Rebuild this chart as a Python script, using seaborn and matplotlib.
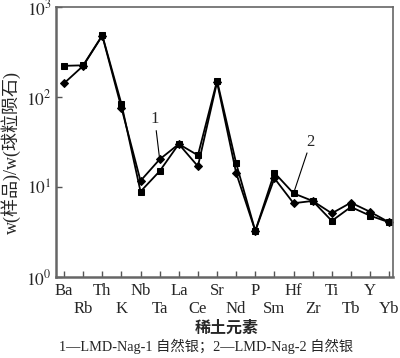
import numpy as np
import pandas as pd
import seaborn as sns
import matplotlib.pyplot as plt

# elements along the x axis
elements = ["Ba", "Rb", "Th", "K", "Nb", "Ta", "La", "Ce", "Sr", "Nd",
            "P", "Sm", "Hf", "Zr", "Ti", "Tb", "Y", "Yb"]

# chondrite-normalised values
nag1 = [142, 222, 480, 76, 11.7, 20.3, 30, 17, 146, 14.3,
        3.25, 12.5, 6.6, 7.0, 5.1, 6.7, 5.3, 4.05]
nag2 = [222, 225, 485, 84, 8.9, 15, 30, 22.5, 152, 18.3,
        3.25, 14.4, 8.5, 7.0, 4.2, 6.0, 4.8, 4.05]
series_names = ["1", "2"]

yticks = [1, 10, 100, 1000]
ytick_labels = ["$10^{0}$", "$10^{1}$", "$10^{2}$", "$10^{3}$"]

df = pd.DataFrame({
    "idx": list(range(len(elements))) * 2,
    "value": nag1 + nag2,
    "series": [series_names[0]] * len(elements) + [series_names[1]] * len(elements),
})

sns.set_style("white")
plt.rcParams["font.family"] = ["Liberation Serif", "Noto Sans CJK SC"]
plt.rcParams["mathtext.fontset"] = "stix"

fig = plt.figure(figsize=(4.0, 3.58), dpi=100)
ax = fig.add_axes([0.14, 0.2263, 0.8425, 0.7541])

sns.lineplot(data=df, x="idx", y="value", style="series", markers={"1": "D", "2": "s"},
             dashes=False, color="black", linewidth=1.3, markersize=5,
             markeredgecolor="black", legend=False, ax=ax)
# diamonds are a bit smaller than the squares
for line in ax.get_lines():
    if line.get_marker() == "D":
        line.set_markersize(3.6)

ax.set_yscale("log")
ax.set_ylim(1, 1000)
ax.set_xlim(-0.42, 17.2)
ax.set_yticks(yticks)
ax.set_yticklabels(ytick_labels, fontsize=12.5)
ax.yaxis.set_minor_locator(plt.NullLocator())

# two rows of element labels: even ones on major ticks, odd ones on minor ticks
pos = np.arange(len(elements))
ax.set_xticks(pos[::2])
ax.set_xticklabels(elements[::2], fontsize=12)
ax.set_xticks(pos[1::2], minor=True)
ax.set_xticklabels(elements[1::2], minor=True, fontsize=12)

ax.tick_params(axis="both", which="both", direction="in", length=4, width=1,
               color="#555555", bottom=True, left=True, pad=2)
ax.tick_params(axis="x", which="major", pad=4)
ax.tick_params(axis="x", which="minor", pad=17)
ax.tick_params(axis="y", pad=3)
for s in ax.spines.values():
    s.set_color("#666666")
    s.set_linewidth(1.2)
ax.spines["bottom"].set_linewidth(1.8)
ax.spines["left"].set_linewidth(1.8)

ax.set_xlabel("")
ax.set_ylabel("w(样品)/w(球粒陨石)", fontsize=13)
ax.yaxis.set_label_coords(-0.105, 0.46)

# curve labels with leader lines
ax.annotate("1", xy=(5, 20.3), xytext=(4.75, 46), fontsize=12, ha="center", va="bottom",
            arrowprops=dict(arrowstyle="-", color="black", lw=0.8, shrinkA=0, shrinkB=2))
ax.annotate("2", xy=(12, 8.5), xytext=(12.9, 26), fontsize=12, ha="center", va="bottom",
            arrowprops=dict(arrowstyle="-", color="black", lw=0.8, shrinkA=0, shrinkB=2))

fig.text(0.5675, 1 - 328 / 358, "稀土元素", fontsize=11.5, fontweight="bold",
         family="Noto Sans CJK SC", ha="center", va="center")
fig.text(0.515, 1 - 346 / 358, "1—LMD-Nag-1 自然银；2—LMD-Nag-2 自然银", fontsize=10.3,
         ha="center", va="center")

fig.savefig("out.png", dpi=100)
